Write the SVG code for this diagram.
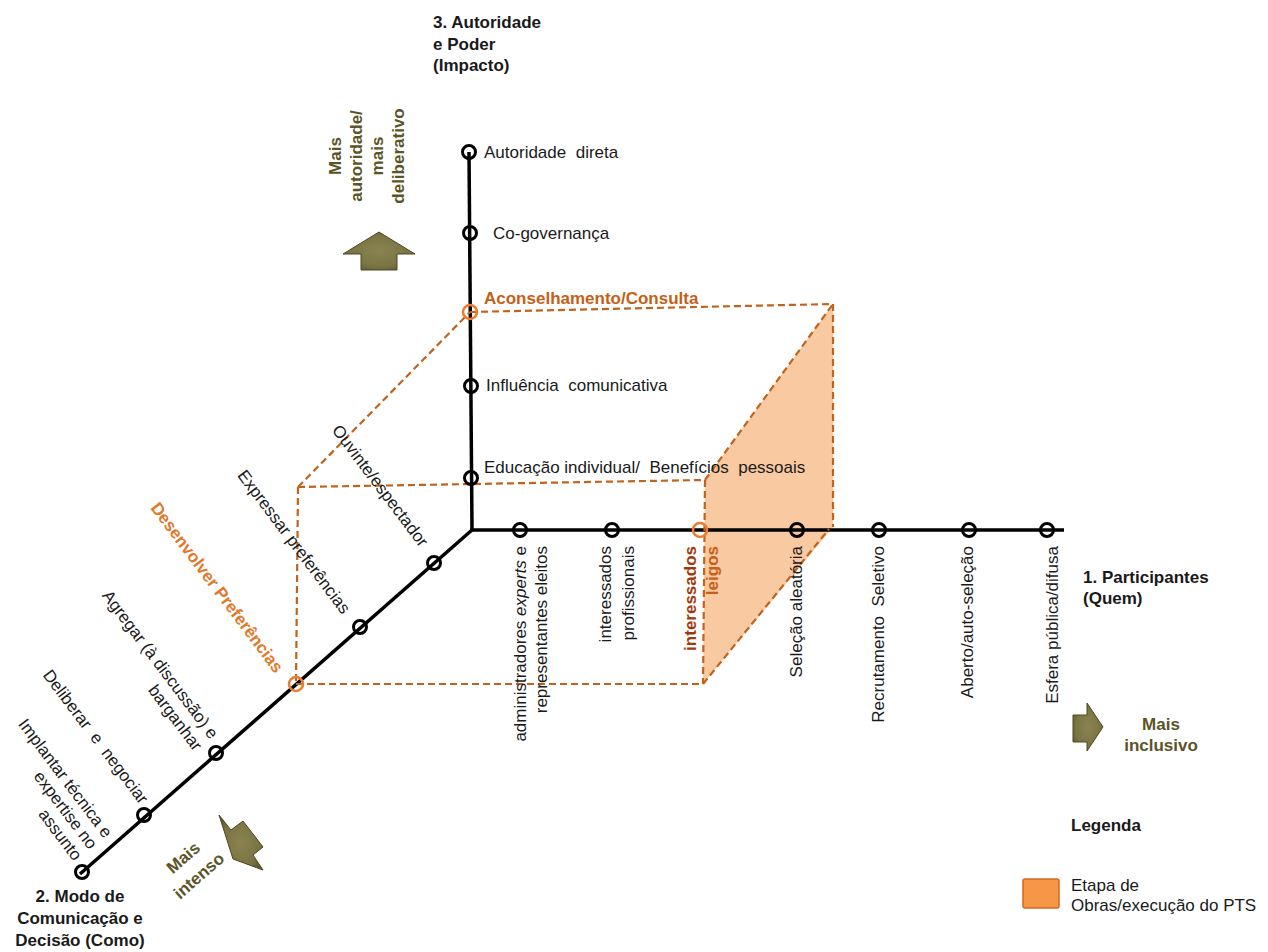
<svg xmlns="http://www.w3.org/2000/svg" width="1268" height="952" viewBox="0 0 1268 952">
  <defs>
    <style>
      text { font-family: "Liberation Sans", Arial, sans-serif; font-size: 17px; fill: #1a1a1a; }
      .b { font-weight: bold; }
      .olive { fill: #5b5427; font-weight: bold; }
      .acc { fill: #c65f17; font-weight: bold; }
      .acc2 { fill: #e0792b; font-weight: bold; }
      .red { fill: #9e3b0e; font-weight: bold; }
      .ax { stroke: #000; stroke-width: 3.5; fill: none; }
      .nd { fill: none; stroke: #000; stroke-width: 3; }
      .ond { fill: none; stroke: #ec7c30; stroke-width: 2.6; }
      .dash { stroke: #c1631c; stroke-width: 2.2; stroke-dasharray: 7 4; fill: none; }
      .arrow { fill: url(#oliveFill); stroke: #4d4822; stroke-width: 1; }
    </style>
    <radialGradient id="oliveFill" cx="50%" cy="50%" r="60%">
      <stop offset="0" stop-color="#8a8351"/>
      <stop offset="0.7" stop-color="#7a7343"/>
      <stop offset="1" stop-color="#5e5830"/>
    </radialGradient>
  </defs>
  <rect width="1268" height="952" fill="#fff"/>

  <!-- shaded stage volume -->
  <polygon id="stage-fill" points="705,480 833,304 833,527 703,684" fill="#f9c9a1"/>

  <!-- connectors: axes and dashed box -->
  <g id="connectors">
    <line class="ax" x1="469" y1="152" x2="472" y2="530"/>
    <line class="ax" x1="470" y1="530" x2="1064" y2="530"/>
    <line class="ax" x1="472" y1="530" x2="80" y2="874"/>
    <g class="dash">
      <line x1="298" y1="487" x2="705" y2="480"/>
      <line x1="298" y1="487" x2="296" y2="684"/>
      <line x1="298" y1="487" x2="470" y2="312"/>
      <line x1="470" y1="312" x2="833" y2="304"/>
      <line x1="705" y1="480" x2="833" y2="304"/>
      <line x1="705" y1="480" x2="703" y2="684"/>
      <line x1="833" y1="304" x2="833" y2="527"/>
      <line x1="296" y1="684" x2="703" y2="684"/>
      <line x1="703" y1="684" x2="829" y2="529"/>
    </g>
  </g>

  <!-- axis 3: authority and power -->
  <g id="axis3-title">
    <text class="b" x="433" y="28">3. Autoridade</text>
    <text class="b" x="433" y="50">e Poder</text>
    <text class="b" x="433" y="71">(Impacto)</text>
  </g>
  <g id="node-autoridade-direta">
    <circle class="nd" cx="469" cy="152" r="6.5"/>
    <text x="484" y="158" xml:space="preserve">Autoridade  direta</text>
  </g>
  <g id="node-co-governanca">
    <circle class="nd" cx="470" cy="233" r="6.5"/>
    <text x="493" y="239">Co-governança</text>
  </g>
  <g id="node-aconselhamento">
    <circle class="ond" cx="470" cy="312" r="7"/>
    <text class="acc" x="484" y="304">Aconselhamento/Consulta</text>
  </g>
  <g id="node-influencia">
    <circle class="nd" cx="471" cy="386" r="6.5"/>
    <text x="486" y="391" xml:space="preserve">Influência  comunicativa</text>
  </g>
  <g id="node-educacao">
    <circle class="nd" cx="471" cy="478" r="6.5"/>
    <text x="484" y="473" xml:space="preserve">Educação individual/  Benefícios  pessoais</text>
  </g>

  <!-- axis 1: participants -->
  <g id="axis1-title">
    <text class="b" x="1083" y="583">1. Participantes</text>
    <text class="b" x="1083" y="604">(Quem)</text>
  </g>
  <g id="node-administradores">
    <circle class="nd" cx="520" cy="530" r="6.5"/>
    <text transform="translate(526,546) rotate(-90)" text-anchor="end"><tspan x="0" y="0">administradores <tspan font-style="italic">experts</tspan> e</tspan><tspan x="0" y="21">representantes eleitos</tspan></text>
  </g>
  <g id="node-profissionais">
    <circle class="nd" cx="612" cy="530" r="6.5"/>
    <text transform="translate(611,546) rotate(-90)" text-anchor="end"><tspan x="0" y="0">interessados</tspan><tspan x="0" y="23">profissionais</tspan></text>
  </g>
  <g id="node-leigos">
    <circle class="ond" cx="700" cy="530" r="7"/>
    <text transform="translate(696,546) rotate(-90)" text-anchor="end"><tspan class="red" x="0" y="0">interessados</tspan><tspan class="acc" x="0" y="22">leigos</tspan></text>
  </g>
  <g id="node-selecao-aleatoria">
    <circle class="nd" cx="797" cy="530" r="6.5"/>
    <text transform="translate(802,546) rotate(-90)" text-anchor="end">Seleção aleatória</text>
  </g>
  <g id="node-recrutamento">
    <circle class="nd" cx="879" cy="530" r="6.5"/>
    <text transform="translate(884,546) rotate(-90)" text-anchor="end" xml:space="preserve">Recrutamento  Seletivo</text>
  </g>
  <g id="node-aberto">
    <circle class="nd" cx="969" cy="530" r="6.5"/>
    <text transform="translate(973,546) rotate(-90)" text-anchor="end">Aberto/auto-seleção</text>
  </g>
  <g id="node-esfera">
    <circle class="nd" cx="1047" cy="530" r="6.5"/>
    <text transform="translate(1058,546) rotate(-90)" text-anchor="end">Esfera pública/difusa</text>
  </g>

  <!-- axis 2: communication and decision -->
  <g id="axis2-title">
    <text class="b" x="80" y="902" text-anchor="middle">2. Modo de</text>
    <text class="b" x="80" y="924" text-anchor="middle">Comunicação e</text>
    <text class="b" x="80" y="946" text-anchor="middle">Decisão (Como)</text>
  </g>
  <g id="node-ouvinte">
    <circle class="nd" cx="434" cy="563" r="6.5"/>
    <text transform="translate(420,548) rotate(53)" text-anchor="end">Ouvinte/espectador</text>
  </g>
  <g id="node-expressar">
    <circle class="nd" cx="360" cy="627" r="6.5"/>
    <text transform="translate(342,615) rotate(53)" text-anchor="end">Expressar preferências</text>
  </g>
  <g id="node-desenvolver">
    <circle class="ond" cx="296" cy="684" r="7"/>
    <text class="acc2" transform="translate(275,674) rotate(53)" text-anchor="end">Desenvolver Preferências</text>
  </g>
  <g id="node-agregar">
    <circle class="nd" cx="216" cy="753" r="6.5"/>
    <text transform="translate(210,740) rotate(53)" text-anchor="end"><tspan x="0" y="0">Agregar (à discussão) e</tspan><tspan x="0" y="20">barganhar</tspan></text>
  </g>
  <g id="node-deliberar">
    <circle class="nd" cx="144" cy="815" r="6.5"/>
    <text transform="translate(140,805) rotate(53)" text-anchor="end" xml:space="preserve">Deliberar  e  negociar</text>
  </g>
  <g id="node-implantar">
    <circle class="nd" cx="82" cy="872" r="6.5"/>
    <text transform="translate(104,839) rotate(53)" text-anchor="end"><tspan x="0" y="0">Implantar técnica e</tspan><tspan x="0" y="19">expertise no</tspan><tspan x="0" y="38">assunto</tspan></text>
  </g>

  <!-- direction indicators -->
  <g id="dir-autoridade">
    <polygon class="arrow" points="379,232 415,254 397,254 397,270 361,270 361,254 343,254"/>
    <text class="olive" transform="translate(341,156) rotate(-90)" text-anchor="middle"><tspan x="0" y="0">Mais</tspan><tspan x="0" y="21">autoridade/</tspan><tspan x="0" y="42">mais</tspan><tspan x="0" y="63">deliberativo</tspan></text>
  </g>
  <g id="dir-inclusivo">
    <polygon class="arrow" points="1073,715 1087,715 1087,703 1103,727 1087,751 1087,742 1073,742"/>
    <text class="olive" x="1161" y="730" text-anchor="middle">Mais</text>
    <text class="olive" x="1161" y="751" text-anchor="middle">inclusivo</text>
  </g>
  <g id="dir-intenso">
    <polygon class="arrow" points="219,815 231,830 243,821 263,847 253,855 263,870 233,859"/>
    <text class="olive" transform="translate(187,862) rotate(-41)" text-anchor="middle"><tspan x="0" y="0">Mais</tspan><tspan x="0" y="24">intenso</tspan></text>
  </g>

  <!-- legend -->
  <g id="legend">
    <text class="b" x="1071" y="831">Legenda</text>
    <rect x="1023" y="879" width="36" height="29" rx="2" fill="#f79646" stroke="#d06a1e" stroke-width="1.5"/>
    <text x="1071" y="891">Etapa de</text>
    <text x="1071" y="911">Obras/execução do PTS</text>
  </g>
</svg>
